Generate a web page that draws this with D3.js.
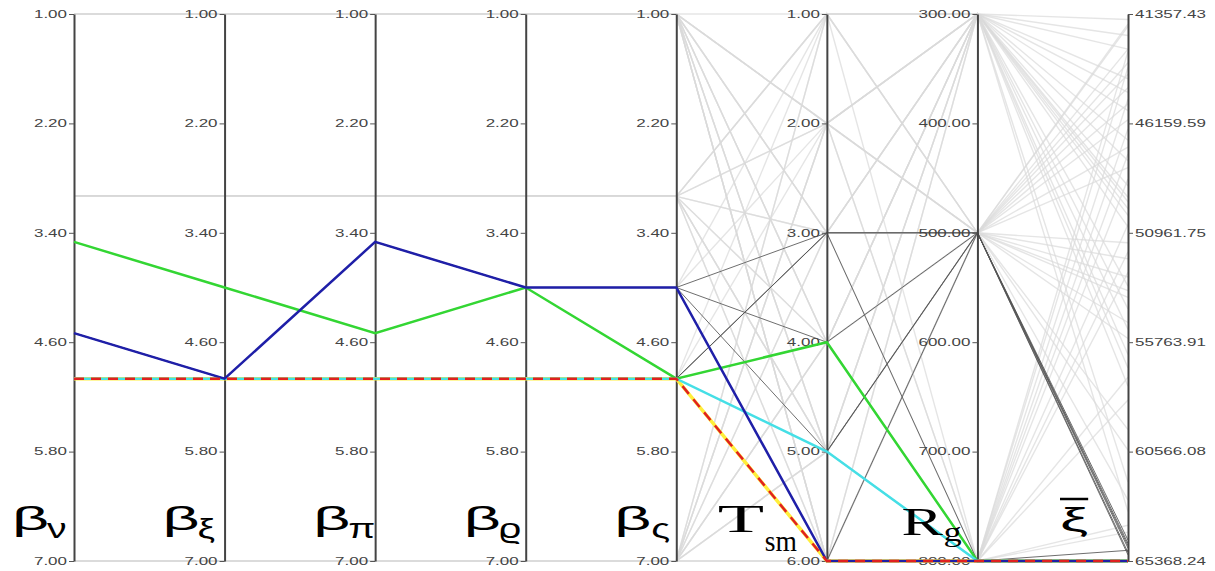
<!DOCTYPE html>
<html>
<head>
<meta charset="utf-8">
<script src="https://cdn.jsdelivr.net/npm/d3@7"></script>
<style>
  body { margin: 0; background: #fff; }
  svg { display: block; }
</style>
</head>
<body>
<svg id="pc" width="1215" height="571"></svg>
<script>
// dimensions and their tick labels
const dims = ['bv', 'bxi', 'bpi', 'brho', 'bsig', 'tsm', 'rg', 'xibar'];
const betaTicks = [1.00, 2.20, 3.40, 4.60, 5.80, 7.00];
const tsmTicks = [1, 2, 3, 4, 5, 6];
const rgTicks = [300, 400, 500, 600, 700, 800];
const xiTicks = [41357.43, 46159.59, 50961.75, 55763.91, 60566.08, 65368.24];
const dimTicks = [betaTicks, betaTicks, betaTicks, betaTicks, betaTicks, tsmTicks, rgTicks, xiTicks];

const labelMain = ['β', 'β', 'β', 'β', 'β', 'T', 'R', 'ξ'];
const labelSub = ['ν', 'ξ', 'π', 'ϱ', 'ς', 'sm', 'g', ''];

// highlighted solutions
const greenRow = [3.5, 4.0, 4.5, 4.0, 5.0, 4, 800, 65368.24];
const blueRow = [4.5, 5.0, 3.5, 4.0, 4.0, 6, 800, 65368.24];
const cyanRow = [5.0, 5.0, 5.0, 5.0, 5.0, 5, 800, 65368.24];
const redRow = [5.0, 5.0, 5.0, 5.0, 5.0, 6, 800, 65368.24];

// near-optimal solutions (dark grey)
const darkRows = [
  [4.5, 5.0, 3.5, 4.0, 4.0, 3, 500, 64800],
  [4.5, 5.0, 3.5, 4.0, 4.0, 4, 500, 65000],
  [4.5, 5.0, 3.5, 4.0, 4.0, 5, 500, 64600],
  [4.5, 5.0, 3.5, 4.0, 4.0, 6, 500, 65100],
  [3.5, 4.0, 4.5, 4.0, 5.0, 3, 800, 64900],
  [5.0, 5.0, 5.0, 5.0, 5.0, 3, 500, 64700],
  [5.0, 5.0, 5.0, 5.0, 5.0, 5, 500, 64450]
];

// all other solutions (light grey)
const bgRows = [
  [1, 1, 1, 1, 1, 2, 300, 42300],
  [1, 1, 1, 1, 1, 3, 300, 44800],
  [1, 1, 1, 1, 1, 4, 500, 47200],
  [1, 1, 1, 1, 1, 5, 300, 50200],
  [1, 1, 1, 1, 1, 6, 500, 43500],
  [1, 1, 1, 1, 1, 2, 500, 53800],
  [1, 1, 1, 1, 1, 4, 800, 48600],
  [1, 1, 1, 1, 1, 6, 300, 56900],
  [3, 3, 3, 3, 3, 1, 300, 45600],
  [3, 3, 3, 3, 3, 1, 500, 51400],
  [3, 3, 3, 3, 3, 2, 800, 46400],
  [3, 3, 3, 3, 3, 4, 300, 49400],
  [3, 3, 3, 3, 3, 5, 500, 42900],
  [3, 3, 3, 3, 3, 6, 800, 52700],
  [7, 7, 7, 7, 7, 1, 300, 54300],
  [7, 7, 7, 7, 7, 2, 500, 41900],
  [7, 7, 7, 7, 7, 3, 300, 47800],
  [7, 7, 7, 7, 7, 4, 500, 55600],
  [7, 7, 7, 7, 7, 5, 800, 50600],
  [7, 7, 7, 7, 7, 6, 300, 44200],
  [7, 7, 7, 7, 7, 1, 800, 58300],
  [4.5, 5.0, 3.5, 4.0, 4.0, 1, 300, 48900],
  [4.5, 5.0, 3.5, 4.0, 4.0, 2, 500, 52100],
  [5, 5, 5, 5, 5, 1, 500, 46000],
  [5, 5, 5, 5, 5, 2, 300, 53300],
  [5, 5, 5, 5, 5, 3, 800, 43000],
  [1, 1, 1, 1, 1, 3, 500, 60500],
  [3, 3, 3, 3, 3, 3, 300, 57700],
  [7, 7, 7, 7, 7, 2, 300, 61900],
  [1, 1, 1, 1, 1, 5, 800, 45100],
  [3, 3, 3, 3, 3, 2, 300, 63200],
  [7, 7, 7, 7, 7, 4, 300, 49900],
  [1, 1, 1, 1, 1, 1, 500, 54900],
  [3, 3, 3, 3, 3, 6, 500, 59600],
  [7, 7, 7, 7, 7, 5, 500, 44600],
  [1, 1, 1, 1, 1, 2, 800, 51800],
  [7, 7, 7, 7, 7, 3, 500, 62700],
  [3, 3, 3, 3, 3, 5, 300, 55200],
  [1, 1, 1, 1, 1, 6, 800, 47500],
  [5, 5, 5, 5, 5, 4, 300, 41600],
  [4.5, 5.0, 3.5, 4.0, 4.0, 6, 800, 64100],
  [7, 7, 7, 7, 7, 6, 800, 63800],
  [1, 1, 1, 1, 1, 4, 300, 56300],
  [1, 1, 1, 1, 1, 3, 300, 42900],
  [3, 3, 3, 3, 3, 4, 500, 45300],
  [7, 7, 7, 7, 7, 5, 300, 46900],
  [1, 1, 1, 1, 1, 6, 500, 48100],
  [3, 3, 3, 3, 3, 1, 300, 50700],
  [7, 7, 7, 7, 7, 2, 500, 52900],
  [1, 1, 1, 1, 1, 5, 500, 53500],
  [3, 3, 3, 3, 3, 3, 500, 44000],
  [7, 7, 7, 7, 7, 4, 800, 43700],
  [1, 1, 1, 1, 1, 2, 300, 49600],
  [7, 7, 7, 7, 7, 6, 500, 41800],
  [3, 3, 3, 3, 3, 5, 800, 57300]
];

// layout
const yTop = 14, yBottom = 561;
const svg = d3.select('#pc');
const tickStretch = 1.7; // tick labels are drawn wide

const x = d3.scalePoint().domain(dims).range([74, 1128]);
const y = dimTicks.map(t => d3.scaleLinear()
  .domain([t[0], t[t.length - 1]])
  .range([yTop, yBottom]));

const line = d3.line()
  .x((d, i) => x(dims[i]))
  .y((d, i) => y[i](d));

const linesG = svg.append('g');

linesG.selectAll('.bg')
  .data(bgRows)
  .enter().append('path')
  .attr('class', 'bg')
  .attr('d', line)
  .attr('fill', 'none')
  .attr('stroke', '#dadada')
  .attr('stroke-opacity', 0.7)
  .attr('stroke-width', 1.4);

linesG.selectAll('.dark')
  .data(darkRows)
  .enter().append('path')
  .attr('class', 'dark')
  .attr('d', line)
  .attr('fill', 'none')
  .attr('stroke', '#555')
  .attr('stroke-opacity', 0.85)
  .attr('stroke-width', 1);

// axes
const axesG = svg.append('g');
dims.forEach((d, i) => {
  const last = i === dims.length - 1;
  const ax = (last ? d3.axisRight(y[i]) : d3.axisLeft(y[i]))
    .tickValues(dimTicks[i])
    .tickFormat(d3.format('.2f'))
    .tickSizeInner(5)
    .tickSizeOuter(0);
  const g = axesG.append('g')
    .attr('transform', `translate(${x(d)},0)`)
    .call(ax);
  g.select('.domain').attr('stroke', '#444').attr('stroke-width', 2);
  g.selectAll('.tick line').attr('stroke', '#555');
  g.selectAll('.tick text')
    .attr('x', (last ? 7 : -7) / tickStretch)
    .attr('transform', `scale(${tickStretch},1)`)
    .attr('fill', '#444')
    .style('font-family', 'Liberation Sans, Arial, sans-serif')
    .style('font-size', '10px');
});

// highlighted lines
const hl = [
  { row: redRow, color: '#ffee3a', width: 3.5, dash: null },
  { row: greenRow, color: '#33d633', width: 2.5, dash: null },
  { row: cyanRow, color: '#45dfe6', width: 2.5, dash: null },
  { row: blueRow, color: '#1f1fa8', width: 2.5, dash: null },
  { row: redRow, color: '#e02020', width: 2.5, dash: '10,7' }
];
svg.append('g').selectAll('path')
  .data(hl)
  .enter().append('path')
  .attr('d', h => line(h.row))
  .attr('fill', 'none')
  .attr('stroke', h => h.color)
  .attr('stroke-width', h => h.width)
  .attr('stroke-dasharray', h => h.dash);

// big axis names: main glyph and subscript, offsets from the axis
const sansFont = 'Liberation Sans, Arial, sans-serif';
const serifFont = 'Liberation Serif, Times New Roman, serif';
const betaName = { font: sansFont, dx: -62, base: 530, size: 34, sx: 1.9, sdx: -27, sbase: 538, ssize: 27, ssx: 1.45 };
const nameLayout = [
  betaName, betaName, betaName, betaName,
  Object.assign({}, betaName, { sdx: -25 }),
  { font: serifFont, dx: -109, base: 532, size: 40, sx: 1.9, sdx: -62, sbase: 551, ssize: 29, ssx: 0.95 },
  { font: serifFont, dx: -76, base: 535, size: 40, sx: 1.55, sdx: -34, sbase: 541, ssize: 28, ssx: 1.3 },
  { font: sansFont, dx: -68, base: 531, size: 34, sx: 1.85 }
];
const namesG = svg.append('g');
dims.forEach((d, i) => {
  const L = nameLayout[i];
  const ax = x(d);
  const main = namesG.append('text')
    .attr('transform', `translate(${ax + L.dx},${L.base}) scale(${L.sx},1)`)
    .attr('fill', '#000')
    .style('font-family', L.font)
    .style('font-size', L.size + 'px')
    .text(labelMain[i]);
  if (labelSub[i]) {
    namesG.append('text')
      .attr('transform', `translate(${ax + L.sdx},${L.sbase}) scale(${L.ssx},1)`)
      .attr('fill', '#000')
      .style('font-family', L.font)
      .style('font-size', L.ssize + 'px')
      .text(labelSub[i]);
  } else {
    // overline of the mean symbol
    const w = main.node().getBBox().width * L.sx;
    namesG.append('line')
      .attr('x1', ax + L.dx).attr('x2', ax + L.dx + w)
      .attr('y1', 499).attr('y2', 499)
      .attr('stroke', '#000').attr('stroke-width', 2.5);
  }
});
</script>
</body>
</html>
